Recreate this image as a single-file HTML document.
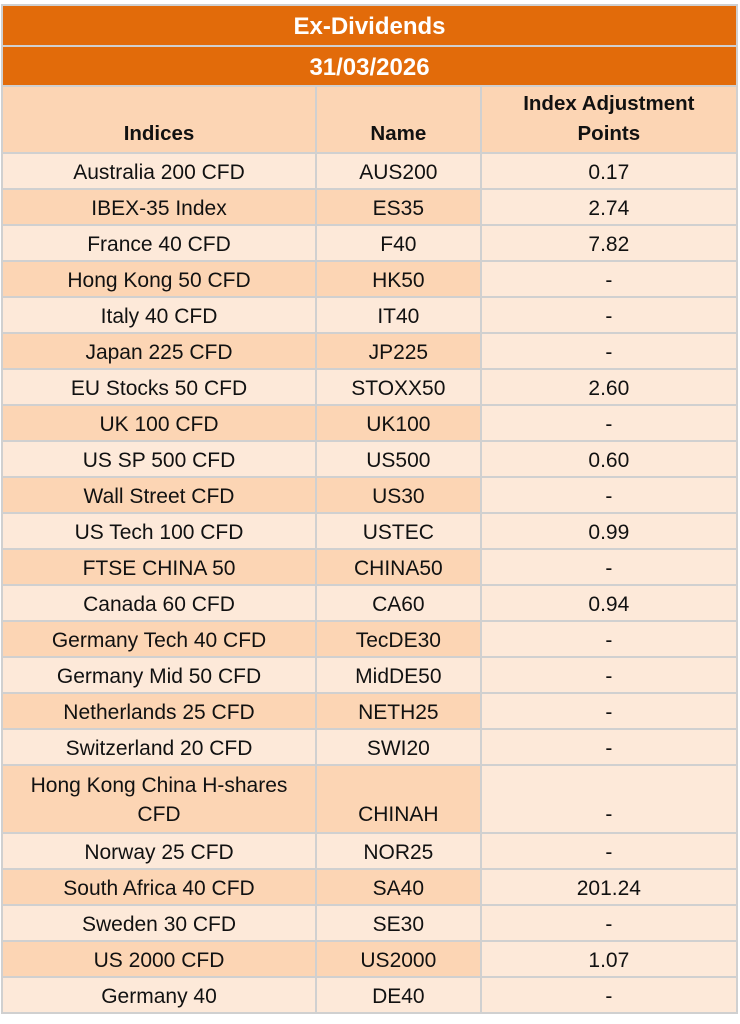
<!DOCTYPE html>
<html><head><meta charset="utf-8"><style>
html,body{margin:0;padding:0;background:#fff;width:740px;height:1024px;overflow:hidden}
table{position:absolute;left:1px;top:4px;border-collapse:collapse;width:737px;font-family:"Liberation Sans",sans-serif;font-size:21px;color:#111;line-height:24px}
td{border:2px solid #d0d0d0;text-align:center;padding:0;height:31px;vertical-align:bottom;padding-bottom:3px}
.t{background:#E26B0A;color:#fff;font-weight:bold;font-size:24px;height:36px;vertical-align:middle;padding:3px 0 0 0}
.h td{font-weight:bold;height:62px;background:#FCD5B4;font-size:20.5px;line-height:30px}
.l td{background:#FDE9D9}
.d td{background:#FCD5B4}
.d td:nth-child(3){background:#FDE9D9}
.m td{height:63px;line-height:29px}
</style></head><body>
<table>
<colgroup><col style="width:315px"><col style="width:165px"><col style="width:257px"></colgroup>
<tr><td class="t" colspan="3">Ex-Dividends</td></tr>
<tr><td class="t" colspan="3" style="height:35px">31/03/2026</td></tr>
<tr class="h"><td>Indices</td><td>Name</td><td>Index Adjustment<br>Points</td></tr>
<tr class="l"><td>Australia 200 CFD</td><td>AUS200</td><td>0.17</td></tr>
<tr class="d"><td>IBEX-35 Index</td><td>ES35</td><td>2.74</td></tr>
<tr class="l"><td>France 40 CFD</td><td>F40</td><td>7.82</td></tr>
<tr class="d"><td>Hong Kong 50 CFD</td><td>HK50</td><td>-</td></tr>
<tr class="l"><td>Italy 40 CFD</td><td>IT40</td><td>-</td></tr>
<tr class="d"><td>Japan 225 CFD</td><td>JP225</td><td>-</td></tr>
<tr class="l"><td>EU Stocks 50 CFD</td><td>STOXX50</td><td>2.60</td></tr>
<tr class="d"><td>UK 100 CFD</td><td>UK100</td><td>-</td></tr>
<tr class="l"><td>US SP 500 CFD</td><td>US500</td><td>0.60</td></tr>
<tr class="d"><td>Wall Street CFD</td><td>US30</td><td>-</td></tr>
<tr class="l"><td>US Tech 100 CFD</td><td>USTEC</td><td>0.99</td></tr>
<tr class="d"><td>FTSE CHINA 50</td><td>CHINA50</td><td>-</td></tr>
<tr class="l"><td>Canada 60 CFD</td><td>CA60</td><td>0.94</td></tr>
<tr class="d"><td>Germany Tech 40 CFD</td><td>TecDE30</td><td>-</td></tr>
<tr class="l"><td>Germany Mid 50 CFD</td><td>MidDE50</td><td>-</td></tr>
<tr class="d"><td>Netherlands 25 CFD</td><td>NETH25</td><td>-</td></tr>
<tr class="l"><td>Switzerland 20 CFD</td><td>SWI20</td><td>-</td></tr>
<tr class="d m"><td>Hong Kong China H-shares<br>CFD</td><td>CHINAH</td><td>-</td></tr>
<tr class="l"><td>Norway 25 CFD</td><td>NOR25</td><td>-</td></tr>
<tr class="d"><td>South Africa 40 CFD</td><td>SA40</td><td>201.24</td></tr>
<tr class="l"><td>Sweden 30 CFD</td><td>SE30</td><td>-</td></tr>
<tr class="d"><td>US 2000 CFD</td><td>US2000</td><td>1.07</td></tr>
<tr class="l"><td>Germany 40</td><td>DE40</td><td>-</td></tr>
</table>
</body></html>
